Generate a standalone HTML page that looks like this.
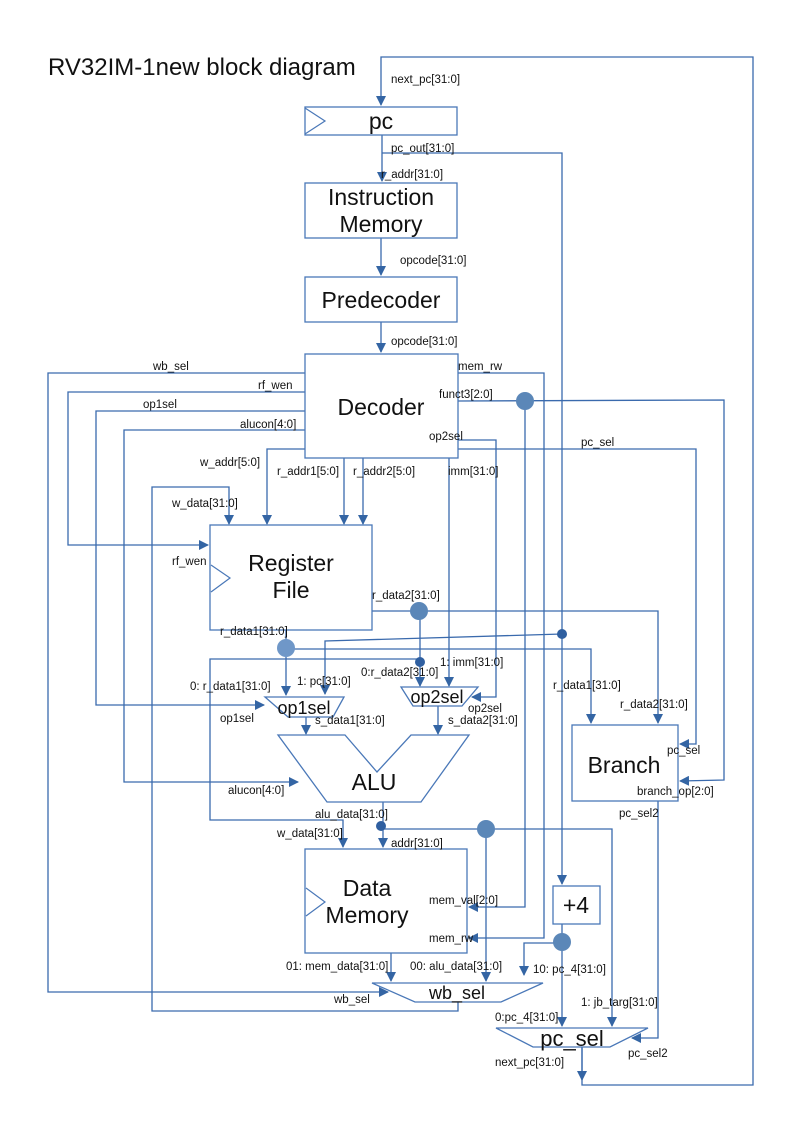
<!DOCTYPE html>
<html><head><style>
html,body{margin:0;padding:0;background:#fff;}
svg{display:block;}
text{font-family:"Liberation Sans",sans-serif;fill:#111;}
.l{font-size:11.5px;}
.b{font-size:23px;text-anchor:middle;}
</style></head><body>
<svg width="800" height="1131" viewBox="0 0 800 1131" xmlns="http://www.w3.org/2000/svg">
<defs>
<marker id="a" markerWidth="10" markerHeight="10" refX="9" refY="5" orient="auto" markerUnits="userSpaceOnUse"><path d="M0,0 L10,5 L0,10 z" fill="#3465a4"/></marker>
</defs>
<text x="48" y="75" style="font-size:24px">RV32IM-1new block diagram</text>
<g fill="none" stroke="#3a6aad" stroke-width="1.3">
<polyline points="582,1047 582,1085 753,1085 753,57 381,57 381,105" marker-end="url(#a)"/>
<line x1="582" y1="1047" x2="582" y2="1080" marker-end="url(#a)"/>
<line x1="382" y1="135" x2="382" y2="181" marker-end="url(#a)"/>
<polyline points="382,153 562,153 562,884" marker-end="url(#a)"/>
<polyline points="562,634 325,641 325,694" marker-end="url(#a)"/>
<line x1="381" y1="238" x2="381" y2="275" marker-end="url(#a)"/>
<line x1="381" y1="322" x2="381" y2="352" marker-end="url(#a)"/>
<polyline points="305,373 48,373 48,992 388,992" marker-end="url(#a)"/>
<polyline points="305,392 68,392 68,545 208,545" marker-end="url(#a)"/>
<polyline points="305,411 96,411 96,705 264,705" marker-end="url(#a)"/>
<polyline points="305,430 124,430 124,782 298,782" marker-end="url(#a)"/>
<polyline points="305,449 267,449 267,524" marker-end="url(#a)"/>
<line x1="344" y1="458" x2="344" y2="524" marker-end="url(#a)"/>
<line x1="363" y1="458" x2="363" y2="524" marker-end="url(#a)"/>
<polyline points="458,1002 458,1011 152,1011 152,487 229,487 229,524" marker-end="url(#a)"/>
<polyline points="458,373 544,373 544,938 469,938" marker-end="url(#a)"/>
<polyline points="458,401 724,400 724,780 680,781" marker-end="url(#a)"/>
<polyline points="525,401 525,907 469,907" marker-end="url(#a)"/>
<polyline points="458,440 496,440 496,697 472,697" marker-end="url(#a)"/>
<polyline points="458,449 696,449 696,744 680,744" marker-end="url(#a)"/>
<line x1="449" y1="458" x2="449" y2="686" marker-end="url(#a)"/>
<polyline points="372,611 658,611 658,723" marker-end="url(#a)"/>
<line x1="420" y1="611" x2="420" y2="686" marker-end="url(#a)"/>
<polyline points="420,659 210,659 210,820 343,820 343,847" marker-end="url(#a)"/>
<line x1="286" y1="630" x2="286" y2="695" marker-end="url(#a)"/>
<polyline points="286,649 591,649 591,723" marker-end="url(#a)"/>
<line x1="306" y1="717" x2="306" y2="734" marker-end="url(#a)"/>
<line x1="438" y1="706" x2="438" y2="734" marker-end="url(#a)"/>
<line x1="383" y1="802" x2="383" y2="847" marker-end="url(#a)"/>
<polyline points="383,829 612,829 612,1026" marker-end="url(#a)"/>
<line x1="486" y1="829" x2="486" y2="981" marker-end="url(#a)"/>
<line x1="391" y1="953" x2="391" y2="981" marker-end="url(#a)"/>
<line x1="562" y1="924" x2="562" y2="1026" marker-end="url(#a)"/>
<polyline points="562,943 524,943 524,975" marker-end="url(#a)"/>
<polyline points="658,801 658,1038 632,1038" marker-end="url(#a)"/>
</g>
<g fill="#fff" stroke="#4a78b8" stroke-width="1.3">
<rect x="305" y="107" width="152" height="28"/>
<rect x="305" y="183" width="152" height="55"/>
<rect x="305" y="277" width="152" height="45"/>
<rect x="305" y="354" width="153" height="104"/>
<rect x="210" y="525" width="162" height="105"/>
<rect x="572" y="725" width="106" height="76"/>
<rect x="305" y="849" width="162" height="104"/>
<rect x="553" y="886" width="47" height="38"/>
<polygon points="265,697 344,697 333,717 288,717"/>
<polygon points="401,687 478,687 462,706 413,706"/>
<polygon points="278,735 345,735 377,772 411,735 469,735 421,802 327,802"/>
<polygon points="372,983 543,983 501,1002 415,1002"/>
<polygon points="496,1028 648,1028 610,1047 533,1047"/>
</g>
<g fill="none" stroke="#4a78b8" stroke-width="1.2">
<polyline points="305,108 325,121 305,134"/>
<polyline points="211,565 230,578 211,592"/>
<polyline points="306,888 325,902 306,916"/>
</g>
<g fill="#5b87b8">
<circle cx="525" cy="401" r="9"/>
<circle cx="419" cy="611" r="9"/>
<circle cx="286" cy="648" r="9" fill="#6f97c8"/>
<circle cx="486" cy="829" r="9"/>
<circle cx="562" cy="942" r="9"/>
<circle cx="562" cy="634" r="5" fill="#2f5fa0"/>
<circle cx="420" cy="662" r="5" fill="#2f5fa0"/>
<circle cx="381" cy="826" r="5" fill="#2f5fa0"/>
</g>
<text class="b" x="381" y="129">pc</text>
<text class="b" x="381" y="205">Instruction</text>
<text class="b" x="381" y="232">Memory</text>
<text class="b" x="381" y="308">Predecoder</text>
<text class="b" x="381" y="415">Decoder</text>
<text class="b" x="291" y="571">Register</text>
<text class="b" x="291" y="598">File</text>
<text class="b" x="624" y="773">Branch</text>
<text class="b" x="367" y="896">Data</text>
<text class="b" x="367" y="923">Memory</text>
<text class="b" x="576" y="913">+4</text>
<text class="b" x="374" y="790">ALU</text>
<text x="304" y="714" style="font-size:18px;text-anchor:middle">op1sel</text>
<text x="437" y="703" style="font-size:18px;text-anchor:middle">op2sel</text>
<text x="457" y="999" style="font-size:18px;text-anchor:middle">wb_sel</text>
<text x="572" y="1046" style="font-size:22px;text-anchor:middle">pc_sel</text>
<g class="l">
<text x="391" y="83">next_pc[31:0]</text>
<text x="391" y="152">pc_out[31:0]</text>
<text x="381" y="178">r_addr[31:0]</text>
<text x="400" y="264">opcode[31:0]</text>
<text x="391" y="345">opcode[31:0]</text>
<text x="153" y="370">wb_sel</text>
<text x="258" y="389">rf_wen</text>
<text x="143" y="408">op1sel</text>
<text x="240" y="428">alucon[4:0]</text>
<text x="200" y="466">w_addr[5:0]</text>
<text x="277" y="475">r_addr1[5:0]</text>
<text x="353" y="475">r_addr2[5:0]</text>
<text x="172" y="507">w_data[31:0]</text>
<text x="172" y="565">rf_wen</text>
<text x="458" y="370">mem_rw</text>
<text x="439" y="398">funct3[2:0]</text>
<text x="429" y="440">op2sel</text>
<text x="581" y="446">pc_sel</text>
<text x="448" y="475">imm[31:0]</text>
<text x="372" y="599">r_data2[31:0]</text>
<text x="220" y="635">r_data1[31:0]</text>
<text x="361" y="676">0:r_data2[31:0]</text>
<text x="440" y="666">1: imm[31:0]</text>
<text x="190" y="690">0: r_data1[31:0]</text>
<text x="297" y="685">1: pc[31:0]</text>
<text x="553" y="689">r_data1[31:0]</text>
<text x="620" y="708">r_data2[31:0]</text>
<text x="220" y="722">op1sel</text>
<text x="468" y="712">op2sel</text>
<text x="315" y="724">s_data1[31:0]</text>
<text x="448" y="724">s_data2[31:0]</text>
<text x="667" y="754">pc_sel</text>
<text x="228" y="794">alucon[4:0]</text>
<text x="637" y="795">branch_op[2:0]</text>
<text x="315" y="818">alu_data[31:0]</text>
<text x="619" y="817">pc_sel2</text>
<text x="277" y="837">w_data[31:0]</text>
<text x="391" y="847">addr[31:0]</text>
<text x="429" y="904">mem_val[2:0]</text>
<text x="429" y="942">mem_rw</text>
<text x="286" y="970">01: mem_data[31:0]</text>
<text x="410" y="970">00: alu_data[31:0]</text>
<text x="533" y="973">10: pc_4[31:0]</text>
<text x="334" y="1003">wb_sel</text>
<text x="581" y="1006">1: jb_targ[31:0]</text>
<text x="495" y="1021">0:pc_4[31:0]</text>
<text x="628" y="1057">pc_sel2</text>
<text x="495" y="1066">next_pc[31:0]</text>
</g>
</svg>
</body></html>
